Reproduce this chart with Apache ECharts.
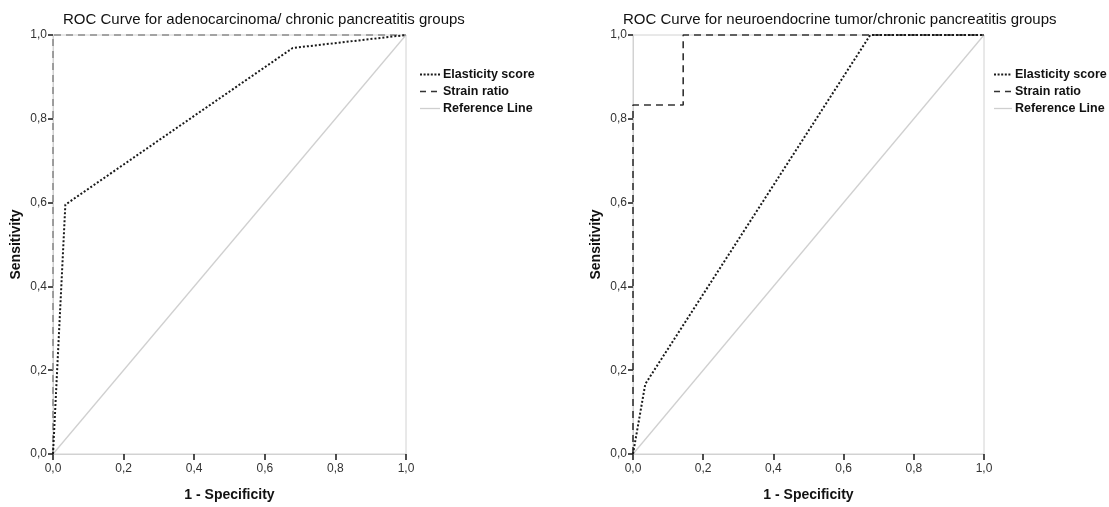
<!DOCTYPE html>
<html>
<head>
<meta charset="utf-8">
<script src="https://cdn.jsdelivr.net/npm/echarts@6/dist/echarts.min.js"></script>
<style>
html,body{margin:0;padding:0;background:#fff;}
#chart{width:1109px;height:507px;}
</style>
</head>
<body>
<div id="chart"></div>
<script>
// ---- data ----
const titles = ['ROC Curve for adenocarcinoma/ chronic pancreatitis groups',
                'ROC Curve for neuroendocrine tumor/chronic pancreatitis groups'];
const seriesNames = ['Elasticity score', 'Strain ratio', 'Reference Line'];
const axisTicks = [0, 0.2, 0.4, 0.6, 0.8, 1.0];

const adenoElasticityX = [0, 0.035, 0.679, 1];
const adenoElasticityY = [0, 0.595, 0.969, 1];
const adenoStrainX = [0, 0, 1];
const adenoStrainY = [0, 1, 1];

const neuroElasticityX = [0, 0.035, 0.676, 1];
const neuroElasticityY = [0, 0.167, 1, 1];
const neuroStrainX = [0, 0, 0.143, 0.143, 1];
const neuroStrainY = [0, 0.833, 0.833, 1, 1];

const referenceX = [0, 1];
const referenceY = [0, 1];

// ---- build ----
const zip = (xs, ys) => xs.map((x, i) => [x, ys[i]]);
const fmt = v => v.toFixed(1).replace('.', ',');
const FONT = "'Liberation Sans', Arial, sans-serif";

const grids = [
  {left: 53, top: 35, width: 353, height: 422},
  {left: 633, top: 35, width: 351, height: 422}
];
const legendLeft = [419, 993];
const legendItemWidth = [20, 18];
const titleLeft = [63, 623];

function makeAxis(type, gi) {
  const isX = type === 'x';
  return {
    type: 'value', gridIndex: gi, min: 0, max: 1, interval: 0.2,
    name: isX ? '1 - Specificity' : 'Sensitivity',
    nameLocation: 'middle',
    nameGap: isX ? 34 : 30,
    nameTextStyle: {fontFamily: FONT, fontWeight: 'bold', fontSize: 14, color: '#111'},
    axisLine: {show: true, lineStyle: {color: '#d2d2d2', width: 1}},
    axisTick: {show: true, length: isX ? 6 : 5, lineStyle: {color: '#222', width: 1.6}},
    axisLabel: {fontFamily: FONT, fontSize: 12, color: '#333', margin: isX ? 9 : 6,
                formatter: v => axisTicks.some(t => Math.abs(t - v) < 1e-9) ? fmt(v) : ''},
    splitLine: {show: false}
  };
}

const sets = [
  {el: zip(adenoElasticityX, adenoElasticityY), st: zip(adenoStrainX, adenoStrainY), stColor: '#8c8c8c'},
  {el: zip(neuroElasticityX, neuroElasticityY), st: zip(neuroStrainX, neuroStrainY), stColor: '#333'}
];

const ELSTYLE = {color: '#1a1a1a', width: 2, type: [2, 2]};

const series = [];
sets.forEach((s, gi) => {
  series.push({
    name: seriesNames[2], type: 'line', xAxisIndex: gi, yAxisIndex: gi,
    data: zip(referenceX, referenceY), showSymbol: false, symbol: 'none', clip: false,
    lineStyle: {color: '#d0d0d0', width: 1.3, type: 'solid'}, itemStyle: {color: '#d0d0d0'}, z: 2, silent: true
  });
  series.push({
    name: seriesNames[1], type: 'line', xAxisIndex: gi, yAxisIndex: gi,
    data: s.st, showSymbol: false, symbol: 'none', clip: false,
    lineStyle: {color: s.stColor, width: 1.6, type: [7, 5]}, itemStyle: {color: s.stColor}, z: 3, silent: true
  });
  series.push({
    name: seriesNames[0], type: 'line', xAxisIndex: gi, yAxisIndex: gi,
    data: s.el, showSymbol: false, symbol: 'none', clip: false,
    lineStyle: ELSTYLE, itemStyle: {color: '#1a1a1a'}, z: 4, silent: true
  });
});

const legendData = [
  {name: seriesNames[0], lineStyle: {color: '#1a1a1a', width: 2, type: [2, 1.6]}},
  {name: seriesNames[1], lineStyle: {color: '#333', width: 1.6, type: [6, 5]}},
  {name: seriesNames[2], lineStyle: {color: '#cfcfcf', width: 1.3, type: 'solid'}}
];

const option = {
  animation: false,
  backgroundColor: '#fff',
  title: titles.map((t, i) => ({
    text: t, left: titleLeft[i], top: 12, padding: 0,
    textStyle: {fontFamily: FONT, fontSize: 15, fontWeight: 'normal', color: '#111'}
  })),
  legend: [0, 1].map(i => ({
    orient: 'vertical', left: legendLeft[i], top: 68, padding: 0,
    itemWidth: legendItemWidth[i], itemHeight: 14, itemGap: 4,
    itemStyle: {opacity: 0, color: 'transparent', borderWidth: 0},
    data: legendData, selectedMode: false,
    textStyle: {fontFamily: FONT, fontWeight: 'bold', fontSize: 12.5, color: '#111', padding: [0, 0, 0, -2]}
  })),
  grid: grids.map(g => Object.assign({show: true, borderColor: '#d2d2d2', borderWidth: 1, backgroundColor: 'transparent'}, g)),
  xAxis: [makeAxis('x', 0), makeAxis('x', 1)],
  yAxis: [makeAxis('y', 0), makeAxis('y', 1)],
  series: series
};

const chart = echarts.init(document.getElementById('chart'), null, {renderer: 'canvas'});
chart.setOption(option);
</script>
</body>
</html>
